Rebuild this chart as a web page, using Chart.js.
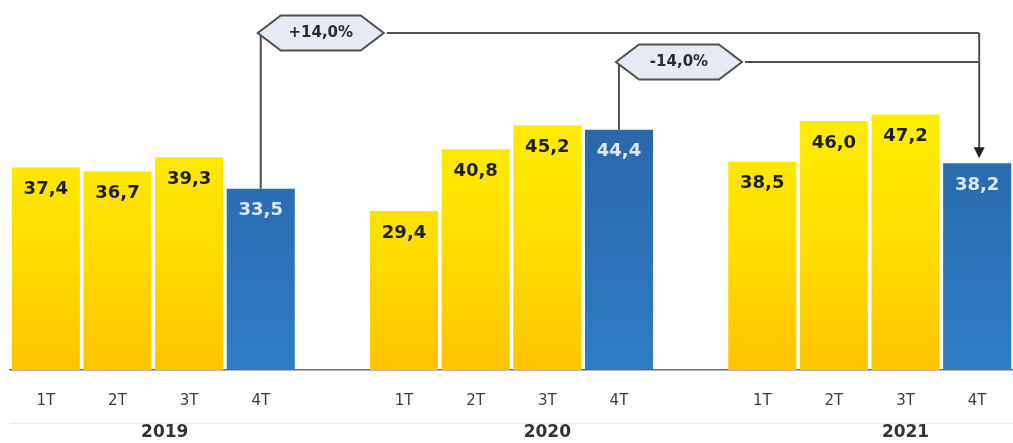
<!DOCTYPE html>
<html>
<head>
<meta charset="utf-8">
<script src="https://cdn.jsdelivr.net/npm/chart.js@4.4.1/dist/chart.umd.min.js"></script>
<style>
html,body{margin:0;padding:0;background:#fff;overflow:hidden;}
#wrap{width:1013px;height:443px;position:relative;}
</style>
</head>
<body>
<div id="wrap"><canvas id="c" width="1013" height="443"></canvas></div>
<script>
// ---- data ----
const years = ["2019", "2020", "2021"];
const quarters = ["1T", "2T", "3T", "4T"];
const values2019 = [37.4, 36.7, 39.3, 33.5];
const values2020 = [29.4, 40.8, 45.2, 44.4];
const values2021 = [38.5, 46.0, 47.2, 38.2];
const changeLabels = ["+14,0%", "-14,0%"];

// build categories with an empty slot between years
const seriesByYear = [values2019, values2020, values2021];
const categories = [];
const barValues = [];
const isQ4 = [];
seriesByYear.forEach((vals, yi) => {
  if (yi > 0) { categories.push(""); barValues.push(null); isQ4.push(false); }
  vals.forEach((v, qi) => { categories.push(quarters[qi]); barValues.push(v); isQ4.push(qi === 3); });
});
const idx = (yi, qi) => yi * 5 + qi;

// layout constants
const yearLabelPos = [1.66, 7.0, 12.0];
const bracketY = [33, 62];
const FONT = '"DejaVu Sans", Verdana, sans-serif';

function barGradient(ctx, q4) {
  const chart = ctx.chart;
  const ca = chart.chartArea;
  if (!ca) return q4 ? '#2b6fb5' : '#ffdc00';
  const g = chart.ctx.createLinearGradient(0, ca.top + 110, 0, ca.bottom);
  if (q4) { g.addColorStop(0, '#2a66a8'); g.addColorStop(1, '#2e7cc5'); }
  else { g.addColorStop(0, '#ffee00'); g.addColorStop(0.55, '#ffdc00'); g.addColorStop(1, '#ffc400'); }
  return g;
}

const labelPlugin = {
  id: 'labels',
  afterDatasetsDraw(chart) {
    const ctx = chart.ctx;
    const meta = chart.getDatasetMeta(0);
    ctx.save();
    ctx.font = 'bold 18px ' + FONT;
    ctx.textAlign = 'center';
    ctx.textBaseline = 'middle';
    meta.data.forEach((bar, i) => {
      const v = barValues[i];
      if (v === null) return;
      ctx.fillStyle = isQ4[i] ? '#dde9f6' : '#1f1f1f';
      ctx.fillText(v.toFixed(1).replace('.', ','), bar.x, bar.y + 22);
    });
    ctx.restore();
  },
  afterDraw(chart) {
    const ctx = chart.ctx;
    const xs = chart.scales.x;
    const ca = chart.chartArea;
    const meta = chart.getDatasetMeta(0);
    ctx.save();
    // faint separator line
    ctx.strokeStyle = '#eeeeee'; ctx.lineWidth = 1;
    ctx.beginPath(); ctx.moveTo(ca.left, 423.5); ctx.lineTo(ca.right, 423.5); ctx.stroke();
    // year labels
    ctx.fillStyle = '#333333';
    ctx.font = 'bold 17px ' + FONT;
    ctx.textAlign = 'center'; ctx.textBaseline = 'middle';
    years.forEach((y, i) => ctx.fillText(y, xs.getPixelForValue(yearLabelPos[i]), 433));

    // brackets
    const target = meta.data[idx(2, 3)];
    const src = [meta.data[idx(0, 3)], meta.data[idx(1, 3)]];
    const tx = target.x + 2;
    ctx.strokeStyle = '#505050'; ctx.lineWidth = 2; ctx.lineJoin = 'miter';
    const hexW = 126, hexH = 35, inset = 23;
    src.forEach((b, k) => {
      const y = bracketY[k];
      ctx.beginPath();
      ctx.moveTo(b.x, b.y); ctx.lineTo(b.x, y);
      ctx.stroke();
      ctx.beginPath();
      ctx.moveTo(b.x + hexW, y); ctx.lineTo(tx, y);
      ctx.stroke();
      // hexagon
      const x0 = b.x - 3;
      ctx.beginPath();
      ctx.moveTo(x0, y);
      ctx.lineTo(x0 + inset, y - hexH / 2);
      ctx.lineTo(x0 + hexW - inset, y - hexH / 2);
      ctx.lineTo(x0 + hexW, y);
      ctx.lineTo(x0 + hexW - inset, y + hexH / 2);
      ctx.lineTo(x0 + inset, y + hexH / 2);
      ctx.closePath();
      ctx.fillStyle = '#e5eaf3';
      ctx.fill(); ctx.stroke();
      ctx.fillStyle = '#2b2b2b';
      ctx.font = 'bold 15px ' + FONT;
      ctx.fillText(changeLabels[k], x0 + hexW / 2, y);
    });
    // right vertical with arrow
    const tipY = target.y - 5;
    ctx.beginPath();
    ctx.moveTo(tx, bracketY[0]); ctx.lineTo(tx, tipY - 10);
    ctx.stroke();
    ctx.fillStyle = '#222222';
    ctx.beginPath();
    ctx.moveTo(tx - 5.5, tipY - 11); ctx.lineTo(tx + 5.5, tipY - 11); ctx.lineTo(tx, tipY);
    ctx.closePath(); ctx.fill();
    ctx.restore();
  }
};

new Chart(document.getElementById('c'), {
  type: 'bar',
  data: {
    labels: categories,
    datasets: [{
      data: barValues,
      backgroundColor: (ctx) => barGradient(ctx, isQ4[ctx.dataIndex]),
      borderWidth: 0,
      categoryPercentage: 1.0,
      barPercentage: 0.95
    }]
  },
  options: {
    responsive: false,
    animation: false,
    events: [],
    layout: { padding: { left: 10, right: 0, top: 2, bottom: 0 } },
    plugins: { legend: { display: false }, tooltip: { enabled: false } },
    scales: {
      y: { display: false, min: 0, max: 68 },
      x: {
        afterFit: (s) => { s.height = 73; },
        grid: { display: false, drawTicks: false },
        border: { display: true, color: '#6d6d6d', width: 1.5 },
        ticks: { color: '#3c3c3c', font: { family: FONT, size: 15 }, padding: 22, maxRotation: 0, autoSkip: false }
      }
    }
  },
  plugins: [labelPlugin]
});
</script>
</body>
</html>
